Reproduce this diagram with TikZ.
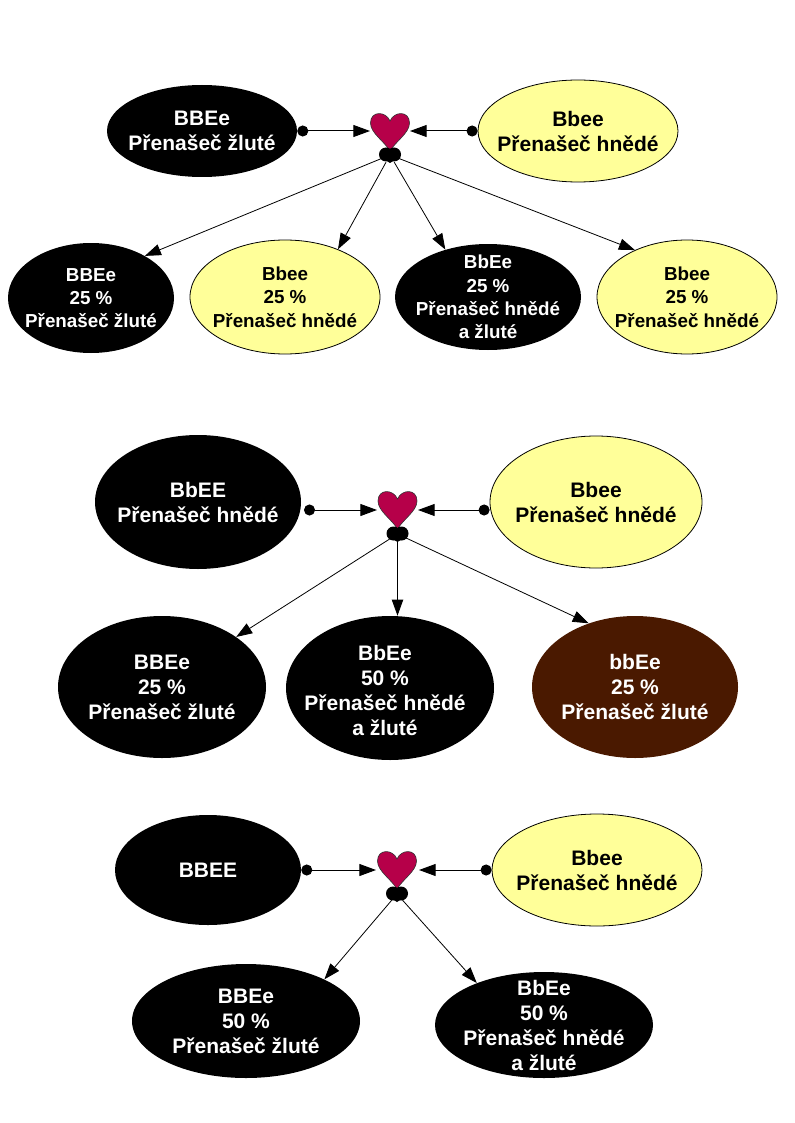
\documentclass[tikz,border=0pt]{standalone}
\usepackage{fontspec}
\setmainfont{Liberation Sans}
\usetikzlibrary{shapes.geometric,arrows.meta}
\definecolor{yel}{RGB}{255,255,153}
\definecolor{brn}{RGB}{74,25,0}
\definecolor{hrt}{RGB}{182,0,73}
\tikzset{
  blk/.style={ellipse, fill=black, draw=none, inner sep=0pt},
  ylw/.style={ellipse, fill=yel, draw=black, line width=0.6pt, inner sep=0pt},
  brw/.style={ellipse, fill=brn, draw=none, inner sep=0pt},
  wbig/.style={text=white, font=\bfseries\fontsize{15.75}{18.75}\selectfont, align=center, inner sep=0pt},
  kbig/.style={text=black, font=\bfseries\fontsize{15.75}{18.75}\selectfont, align=center, inner sep=0pt},
  wsmall/.style={text=white, font=\bfseries\fontsize{14.1}{17.5}\selectfont, align=center, inner sep=0pt},
  ksmall/.style={text=black, font=\bfseries\fontsize{14.1}{17.5}\selectfont, align=center, inner sep=0pt},
  dotarr/.style={line width=0.75pt, {Circle[length=8.25pt]}-{Triangle[length=12.5pt,width=9pt]}},
  arr/.style={line width=0.6pt, -{Triangle[length=12pt,width=8.5pt]}},
  knot/.style={circle, minimum size=12pt, inner sep=0pt, draw=none},
  heart/.pic={\filldraw[fill=hrt, draw=black!80, line width=0.45pt]
     (0,8) .. controls (-4,-2) and (-19.5,-2.5) .. (-19.5,10)
     .. controls (-19.5,20) and (-6,28) .. (0,38)
     .. controls (6,28) and (19.5,20) .. (19.5,10)
     .. controls (19.5,-2.5) and (4,-2) .. (0,8) -- cycle;},
  smallheart/.pic={\fill[black] (-4,7.5) circle[radius=7] (4,7.5) circle[radius=7];
     \fill[black] (-8,11) -- (0,16) -- (8,11) -- cycle;}
}
\newcommand{\myblob}[8]{%
  \node[#6, minimum width=#4*1.5pt, minimum height=#5*1.5pt] (#1) at (#2,#3) {};
  \node[#7] (#1t) at (#2,#3) {#8};}
\begin{document}
\begin{tikzpicture}[x=0.75pt,y=-0.75pt]
\useasboundingbox[fill=white] (0,0) rectangle (794,1123);

% ---------- section 1 ----------
\myblob{a1}{202}{131}{95}{46}{blk}{wbig}{BBEe\\Přenašeč žluté}
\myblob{b1}{578}{131}{100}{51}{ylw}{kbig}{Bbee\\Přenašeč hnědé}
\pic at (390,113) {heart};
\pic at (390,147) {smallheart};
\node[knot] (k1) at (390,155) {};
\coordinate (h1w) at (370,131);
\coordinate (h1e) at (410,131);
\draw[dotarr] (a1.east) -- (h1w);
\draw[dotarr] (b1.west) -- (h1e);
\myblob{c1}{91}{298}{83}{55}{blk}{wsmall}{BBEe\\25 \%\\Přenašeč žluté}
\myblob{c2}{285}{297}{95}{57}{ylw}{ksmall}{Bbee\\25 \%\\Přenašeč hnědé}
\myblob{c3}{488}{297}{93}{53}{blk}{wsmall}{BbEe\\25 \%\\Přenašeč hnědé\\a žluté}
\myblob{c4}{687}{297}{90}{57}{ylw}{ksmall}{Bbee\\25 \%\\Přenašeč hnědé}
\draw[arr] (k1) -- (c1.38);
\draw[arr] (k1) -- (c2.42);
\draw[arr] (k1) -- (c3.132);
\draw[arr] (k1) -- (c4.138);

% ---------- section 2 ----------
\myblob{a2}{198}{502}{103}{67}{blk}{wbig}{BbEE\\Přenašeč hnědé}
\myblob{b2}{596}{502}{106}{66}{ylw}{kbig}{Bbee\\Přenašeč hnědé}
\pic at (397.5,491) {heart};
\pic at (397.5,526) {smallheart};
\node[knot] (k2) at (397.5,534) {};
\coordinate (h2w) at (377,510);
\coordinate (h2e) at (418,510);
\coordinate (a2o) at (304,510);
\draw[dotarr] (a2o) -- (h2w);
\draw[dotarr] (b2.west |- h2e) -- (h2e);
\myblob{d1}{162}{687}{104}{71}{blk}{wbig}{BBEe\\25 \%\\Přenašeč žluté}
\node[blk, minimum width=104*1.5pt, minimum height=72*1.5pt] (d2) at (390,688) {};
\node[wbig] (d2t) at (385,690) {BbEe\\50 \%\\Přenašeč hnědé\\a žluté};
\myblob{d3}{635}{687}{103}{71}{brw}{wbig}{bbEe\\25 \%\\Přenašeč žluté}
\draw[arr] (k2) -- (d1.34);
\draw[arr] (k2) -- (k2 |- d2.north);
\draw[arr] (k2) -- (d3.126);

% ---------- section 3 ----------
\myblob{a3}{208}{870}{93}{55}{blk}{wbig}{BBEE}
\myblob{b3}{597}{870}{105}{56}{ylw}{kbig}{Bbee\\Přenašeč hnědé}
\pic at (397,851) {heart};
\pic at (397,886) {smallheart};
\node[knot] (k3) at (397,894) {};
\coordinate (h3w) at (376,870);
\coordinate (h3e) at (419,870);
\draw[dotarr] (a3.east) -- (h3w);
\draw[dotarr] (b3.west) -- (h3e);
\myblob{e1}{246}{1021}{114}{57}{blk}{wbig}{BBEe\\50 \%\\Přenašeč žluté}
\myblob{e2}{544}{1025}{109}{53}{blk}{wbig}{BbEe\\50 \%\\Přenašeč hnědé\\a žluté}
\draw[arr] (k3) -- (e1.28);
\draw[arr] (k3) -- (e2.148);
\end{tikzpicture}
\end{document}
